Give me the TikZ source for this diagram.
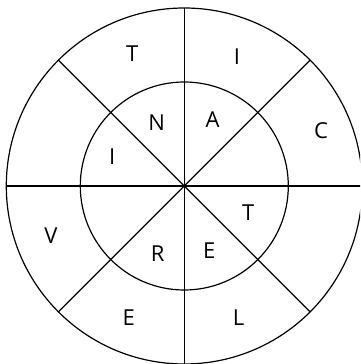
\documentclass[tikz,border=0pt]{standalone}
\usepackage{fontspec}
\setmainfont{Open Sans}
\begin{document}
\begin{tikzpicture}[x=1pt,y=1pt,
  ring/.style={draw=black,line width=1.2pt},
  spoke/.style={draw=black,line width=1.2pt},
  letter/.style={font=\fontsize{22}{22}\selectfont,inner sep=0pt,anchor=center}]
\useasboundingbox (0,0) rectangle (360,364);
\clip (0,0) rectangle (360,364);
\fill[white] (0,0) rectangle (360,364);
\coordinate (c) at (184.3,178);
\draw[ring] (c) circle (178);
\draw[ring] (c) circle (104);
\path (c) ++(0:178) coordinate (p0) (c) ++(45:178) coordinate (p45)
  (c) ++(90:178) coordinate (p90) (c) ++(135:178) coordinate (p135)
  (c) ++(180:178) coordinate (p180) (c) ++(225:178) coordinate (p225)
  (c) ++(270:178) coordinate (p270) (c) ++(315:178) coordinate (p315);
\draw[spoke] (p0) -- (p180);
\draw[spoke] (p90) -- (p270);
\draw[spoke] (p45) -- (p225);
\draw[spoke] (p135) -- (p315);
\node[letter] (o1) at (132.3,310) {T};
\node[letter] (o2) at (237,307.3) {I};
\node[letter] (o3) at (321,233) {C};
\node[letter] (o4) at (51,128.3) {V};
\node[letter] (o5) at (128.7,46.3) {E};
\node[letter] (o6) at (238.7,46.3) {L};
\node[letter] (i1) at (156.7,241.3) {N};
\node[letter] (i2) at (212.7,244.7) {A};
\node[letter] (i3) at (112.3,207.3) {I};
\node[letter] (i4) at (248.3,151.3) {T};
\node[letter] (i5) at (157.7,110.7) {R};
\node[letter] (i6) at (209.3,113.3) {E};
\end{tikzpicture}
\end{document}
